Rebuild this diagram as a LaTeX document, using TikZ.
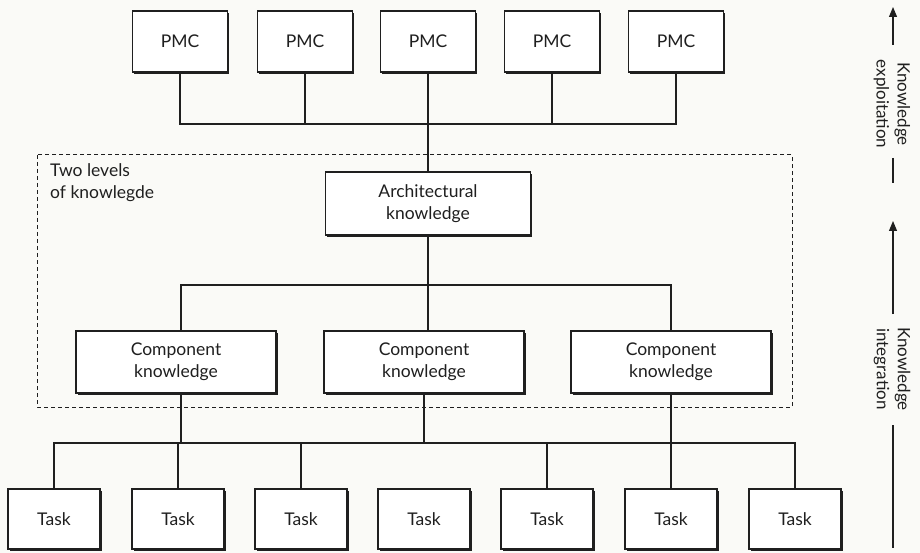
\documentclass[tikz,border=0pt]{standalone}
\usepackage{fontspec}
\setmainfont{Lato}
\usetikzlibrary{shadows,arrows.meta}
\definecolor{paper}{rgb}{0.98,0.98,0.97}
\definecolor{ink}{rgb}{0.12,0.12,0.12}
\tikzset{
  box/.style={draw=ink, line width=1.1pt, fill=white, inner sep=0pt,
    drop shadow={shadow xshift=1.6pt, shadow yshift=-1.6pt, opacity=1, fill=ink},
    font=\fontsize{17.5}{22}\selectfont, text=ink, align=center},
  pmcbox/.style={box, minimum width=95pt, minimum height=61pt},
  archbox/.style={box, minimum width=205pt, minimum height=63pt},
  compbox/.style={box, minimum width=200pt, minimum height=62pt},
  taskbox/.style={box, minimum width=92pt, minimum height=60pt},
  wire/.style={draw=ink, line width=1.1pt},
  side/.style={font=\fontsize{17}{21}\selectfont, text=ink, align=center, rotate=-90},
}
\begin{document}
\begin{tikzpicture}[x=1pt,y=-1pt]
\fill[paper] (0,0) rectangle (920,553);
\useasboundingbox (0,0) rectangle (920,553);

% grouping frame
\draw[ink, line width=1pt, dash pattern=on 4pt off 3pt] (37,155) rectangle (792,407);
\node[anchor=north west, align=left, font=\fontsize{17.5}{22}\selectfont, text=ink, inner sep=0pt] (lvl) at (50,163) {Two levels\\of knowlegde};

% top row
\foreach \i/\x in {1/180,2/305,3/428,4/552,5/676}
  \node[pmcbox] (p\i) at (\x,41.5) {PMC};
\node[archbox] (arch) at (428,203.5) {Architectural\\knowledge};
\node[compbox] (c1) at (176,362) {Component\\knowledge};
\node[compbox] (c2) at (424,362) {Component\\knowledge};
\node[compbox] (c3) at (671,362) {Component\\knowledge};
\foreach \i/\x in {1/54,2/178,3/301,4/424,5/547,6/671,7/795}
  \node[taskbox] (t\i) at (\x,519) {Task};

% junction points
\coordinate (jt) at (428,124);
\coordinate (jm) at (428,285);
\coordinate (jb) at (424,443);

% PMC bus
\draw[wire] (p1.south) |- (jt) -| (p5.south);
\foreach \i in {2,3,4} \draw[wire] (p\i.south) -- (p\i.south |- jt);
\draw[wire] (jt) -- (arch.north);

% architectural to components
\draw[wire] (arch.south) -- (jm);
\draw[wire] (c1.north -| 181,0) |- (jm) -| (c3.north);
\draw[wire] (jm) -- (c2.north -| jm);

% components to tasks
\draw[wire] (c1.south -| 181,0) -- (181,443);
\draw[wire] (c2.south) -- (jb);
\draw[wire] (c3.south) -- (671,443);
\draw[wire] (t1.north) |- (jb) -| (t7.north);
\foreach \i in {2,3,5,6} \draw[wire] (t\i.north) -- (t\i.north |- jb);

% side annotations
\coordinate (a1) at (893,7);
\coordinate (a1e) at (893,45);
\draw[wire, -{Triangle[length=10pt,width=8pt]}] (a1e) -- (a1);
\node[side] (kx) at (892,104) {Knowledge\\exploitation};
\coordinate (d1) at (893,158);
\coordinate (d1e) at (893,183);
\draw[wire] (d1) -- (d1e);
\coordinate (a2) at (893,221);
\coordinate (a2e) at (893,314);
\draw[wire, -{Triangle[length=10pt,width=8pt]}] (a2e) -- (a2);
\node[side] (ki) at (892,369) {Knowledge\\integration};
\coordinate (d2) at (893,425);
\coordinate (d2e) at (893,548);
\draw[wire] (d2) -- (d2e);
\end{tikzpicture}
\end{document}
